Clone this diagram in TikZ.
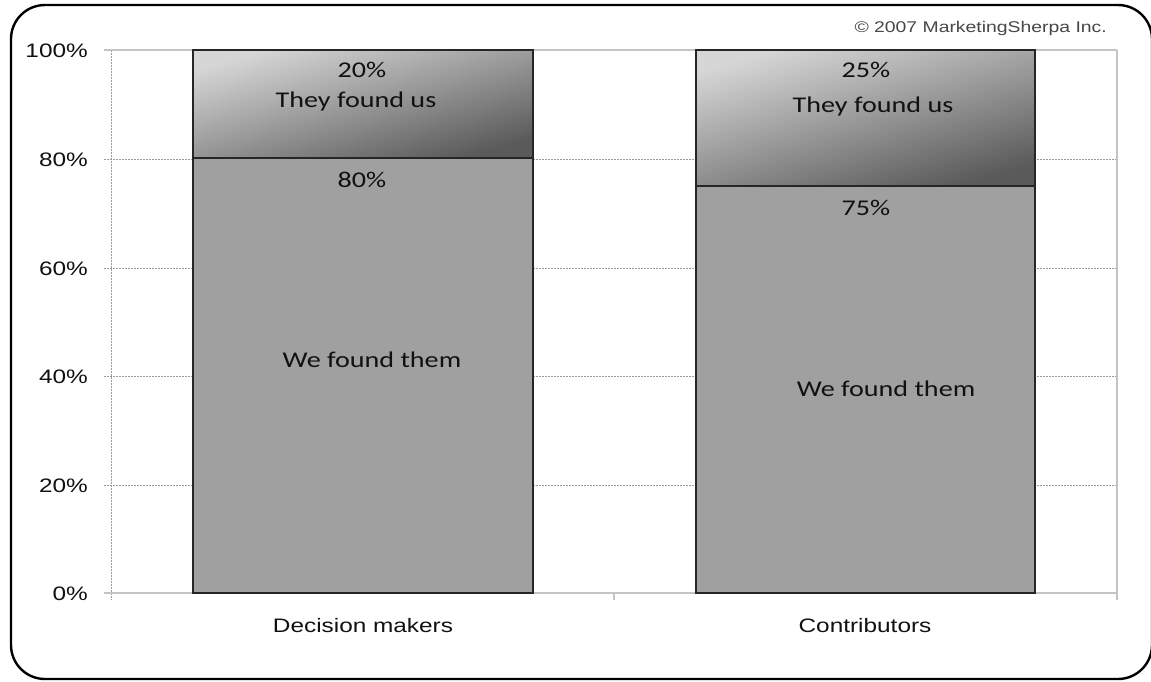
\documentclass[tikz,border=0pt]{standalone}
\usepackage{fontspec}
\setmainfont{Liberation Sans}
\newfontfamily\calfont{Carlito}
\newcommand{\stretchtxt}[1]{\scalebox{1.25}[1]{#1}}
\definecolor{barfill}{HTML}{A0A0A0}
\definecolor{gridcol}{HTML}{9A9A9A}
\definecolor{axcol}{HTML}{C4C4C4}
\definecolor{toplight}{HTML}{D6D6D6}
\definecolor{topmid}{HTML}{B4B4B4}
\definecolor{topdark}{HTML}{5A5A5A}
\definecolor{txt}{HTML}{111111}
\tikzset{
  frame/.style={draw=black,line width=2.4pt,rounded corners=34pt},
  gridline/.style={draw=gridcol,line width=0.8pt,dash pattern=on 2pt off 1pt},
  axisline/.style={draw=axcol,line width=1.2pt},
  lowbar/.style={fill=barfill,draw=black!85,line width=1.3pt},
  topbar/.style={top color=toplight,middle color=topmid,bottom color=topdark,shading angle=16,draw=black!85,line width=1.3pt},
  ylab/.style={anchor=base east,inner sep=0pt,text=txt,font=\fontsize{19.5}{20}\selectfont},
  catlab/.style={anchor=base,inner sep=0pt,text=txt,font=\fontsize{19.5}{20}\selectfont},
  bartxt/.style={anchor=base,inner sep=0pt,text=txt,font=\calfont\fontsize{22.5}{23}\selectfont},
  copy/.style={anchor=base east,inner sep=0pt,text=black!72,font=\fontsize{15.5}{16}\selectfont}
}
\begin{document}
\begin{tikzpicture}[x=1pt,y=-1pt]
\useasboundingbox (0,0) rectangle (1151,681);
\fill[white] (0,0) rectangle (1151,681);
\draw[frame] (11,5) rectangle (1152,679);
% grid
\foreach \yy in {159,268,376,485} { \draw[gridline] (104,\yy) -- (1117,\yy); }
\draw[gridline] (111,50) -- (111,600);
\draw[axisline] (104,50) -- (1117,50);
\draw[axisline] (1117,50) -- (1117,600);
\draw[axisline] (104,593) -- (1117,593);
\draw[axisline] (614,593) -- (614,600);
% bars
\path[lowbar] (193,593) rectangle (533,158);
\path[topbar] (193,158) rectangle (533,50);
\path[lowbar] (696,593) rectangle (1035,186);
\path[topbar] (696,186) rectangle (1035,50);
% y labels
\node[ylab] (y100) at (88,57) {\stretchtxt{100\%}};
\node[ylab] (y80) at (88,166) {\stretchtxt{80\%}};
\node[ylab] (y60) at (88,275) {\stretchtxt{60\%}};
\node[ylab] (y40) at (88,383) {\stretchtxt{40\%}};
\node[ylab] (y20) at (88,492) {\stretchtxt{20\%}};
\node[ylab] (y0) at (88,600) {\stretchtxt{0\%}};
% bar texts
\node[bartxt] (a1) at (362,77) {\stretchtxt{20\%}};
\node[bartxt] (a2) at (356,107) {\stretchtxt{They found us}};
\node[bartxt] (a3) at (362,187) {\stretchtxt{80\%}};
\node[bartxt] (a4) at (372,367) {\stretchtxt{We found them}};
\node[bartxt] (b1) at (866,77) {\stretchtxt{25\%}};
\node[bartxt] (b2) at (873,112) {\stretchtxt{They found us}};
\node[bartxt] (b3) at (866,215) {\stretchtxt{75\%}};
\node[bartxt] (b4) at (886,396) {\stretchtxt{We found them}};
% categories
\node[catlab] (c1) at (363,632) {\stretchtxt{Decision makers}};
\node[catlab] (c2) at (865,632) {\stretchtxt{Contributors}};
% copyright
\node[copy] (cp) at (1107,32) {\stretchtxt{© 2007 MarketingSherpa Inc.}};
\end{tikzpicture}
\end{document}
